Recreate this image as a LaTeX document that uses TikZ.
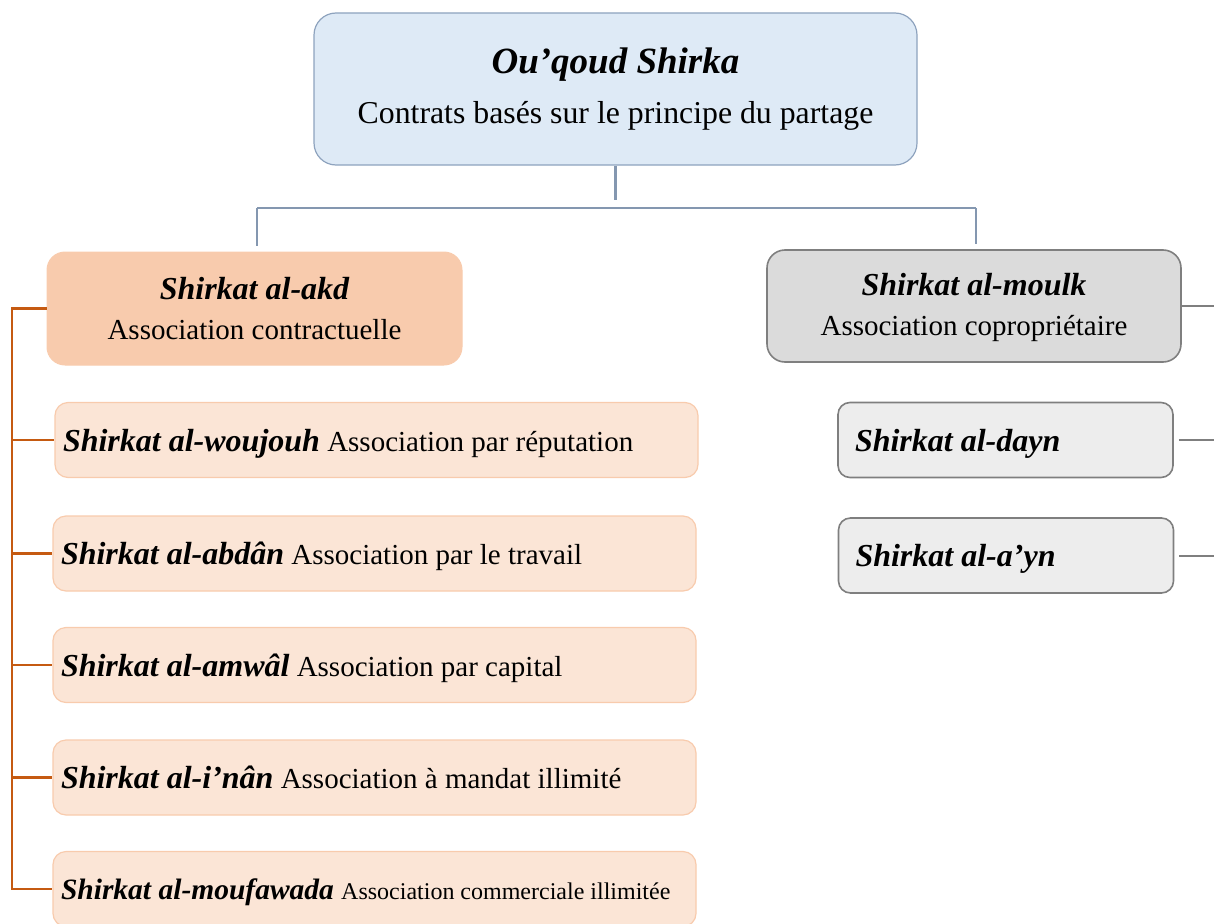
\documentclass[tikz,border=0pt]{standalone}
\usepackage{fontspec}
\setmainfont{Liberation Serif}
\usetikzlibrary{calc}

\definecolor{topfill}{HTML}{DEEAF6}
\definecolor{topline}{HTML}{8EA3BE}
\definecolor{linkblue}{HTML}{8497B0}
\definecolor{akdfill}{HTML}{F8CBAD}
\definecolor{subfill}{HTML}{FBE5D6}
\definecolor{subline}{HTML}{F8CBAD}
\definecolor{bracket}{HTML}{C55A11}
\definecolor{moulkfill}{HTML}{DBDBDB}
\definecolor{grayfill}{HTML}{EDEDED}
\definecolor{grayline}{HTML}{7F7F7F}

% bold italic term followed by its French gloss
\newcommand\shk[1]{{\fontsize{32}{40}\selectfont\bfseries\itshape #1}}

\tikzset{
  headbox/.style={draw=topline, fill=topfill, line width=1.2pt, rounded corners=22pt,
    minimum width=603pt, minimum height=152pt, align=center, inner sep=0pt,
    font=\fontsize{31.8}{50}\selectfont},
  akdbox/.style={draw=akdfill, fill=akdfill, line width=1pt, rounded corners=18pt,
    minimum width=415pt, minimum height=113pt, align=center, inner sep=0pt,
    font=\fontsize{29}{40}\selectfont},
  moulkbox/.style={draw=grayline, fill=moulkfill, line width=1.6pt, rounded corners=18pt,
    minimum width=414pt, minimum height=112pt, align=center, inner sep=0pt,
    font=\fontsize{29}{40}\selectfont},
  leafbox/.style={draw=subline, fill=subfill, line width=1.2pt, rounded corners=13pt,
    minimum height=75pt, text width=627pt, inner xsep=8pt, inner ysep=0pt,
    align=flush left, text depth=0pt, font=\fontsize{29}{40}\selectfont},
  graybox/.style={draw=grayline, fill=grayfill, line width=1.6pt, rounded corners=12pt,
    minimum height=75pt, text width=301pt, inner xsep=17pt, inner ysep=0pt,
    align=flush left, text depth=0pt, font=\fontsize{29}{40}\selectfont},
  bluelink/.style={draw=linkblue, line width=2.4pt},
  orangelink/.style={draw=bracket, line width=2.6pt},
  graylink/.style={draw=grayline, line width=2pt},
}

\begin{document}
\begin{tikzpicture}[x=1pt, y=-1pt]
  \useasboundingbox (0,0) rectangle (1214,923);

  % root of the tree
  \node[headbox] (top) at (615.5,89)
    {{\fontsize{37}{50}\selectfont\bfseries\itshape Ou’qoud Shirka}\\
     Contrats basés sur le principe du partage};

  % the two kinds of association
  \node[akdbox] (akd) at (254.5,308.5)
    {\shk{Shirkat al-akd}\\Association contractuelle};
  \node[moulkbox, text depth=4pt] (moulk) at (974,306)
    {\shk{Shirkat al-moulk}\\Association copropriétaire};

  % contractual associations
  \node[leafbox] (woujouh) at (376.5,440)
    {\shk{Shirkat al-woujouh} Association par réputation};
  \node[leafbox] (abdan) at (374.5,553.5)
    {\shk{Shirkat al-abdân} Association par le travail};
  \node[leafbox] (amwal) at (374.5,665)
    {\shk{Shirkat al-amwâl} Association par capital};
  \node[leafbox] (inan) at (374.5,777.5)
    {\shk{Shirkat al-i’nân} Association à mandat illimité};
  \node[leafbox] (moufawada) at (374.5,889)
    {{\fontsize{29.5}{40}\selectfont\bfseries\itshape Shirkat al-moufawada}
     {\fontsize{24}{40}\selectfont Association commerciale illimitée}};

  % co-ownership associations
  \node[graybox] (dayn) at (1005.5,440) {\shk{Shirkat al-dayn}};
  \node[graybox] (ayn) at (1006,555.5) {\shk{Shirkat al-a’yn}};

  % connectors from the root
  \coordinate (hl) at (257,208);
  \coordinate (hr) at (976,208);
  \draw[bluelink, shorten >=8pt] (top.south) -- (top.south |- hl);
  \draw[bluelink] (hl) -- (hr);
  \draw[bluelink, shorten >=6pt] (hl) -- (hl |- akd.north);
  \draw[bluelink, shorten >=5pt] (hr) -- (hr |- moulk.north);

  % bracket on the left
  \coordinate (lb) at (12,0);
  \draw[orangelink] (akd.west) -- (akd.west -| lb) |- (moufawada.west);
  \foreach \n in {woujouh,abdan,amwal,inan}
    \draw[orangelink] (\n.west -| lb) -- (\n.west);

  % stubs on the right
  \coordinate (re) at (1216,0);
  \draw[graylink] (moulk.east) -- (moulk.east -| re);
  \draw[graylink, shorten <=5pt] (dayn.east) -- (dayn.east -| re);
  \draw[graylink, shorten <=5pt] (ayn.east) -- (ayn.east -| re);
\end{tikzpicture}
\end{document}
